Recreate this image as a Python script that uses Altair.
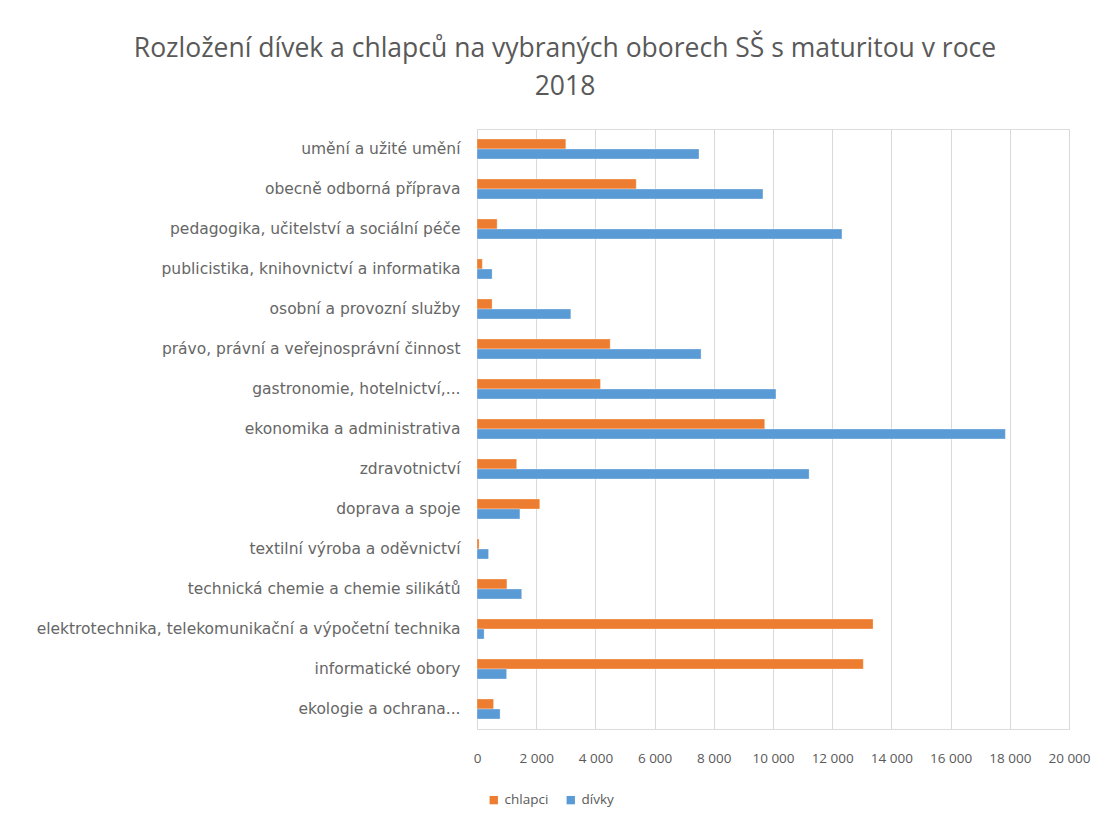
import altair as alt
import pandas as pd

categories = [
    "umění a užité umění",
    "obecně odborná příprava",
    "pedagogika, učitelství a sociální péče",
    "publicistika, knihovnictví a informatika",
    "osobní a provozní služby",
    "právo, právní a veřejnosprávní činnost",
    "gastronomie, hotelnictví,...",
    "ekonomika a administrativa",
    "zdravotnictví",
    "doprava a spoje",
    "textilní výroba a oděvnictví",
    "technická chemie a chemie silikátů",
    "elektrotechnika, telekomunikační a výpočetní technika",
    "informatické obory",
    "ekologie a ochrana...",
]
chlapci = [3000, 5380, 680, 180, 510, 4500, 4170, 9720, 1340, 2120, 70, 1010, 13380, 13050, 560]
divky = [7500, 9660, 12330, 510, 3170, 7570, 10100, 17850, 11220, 1450, 390, 1510, 240, 1000, 780]
series = ["chlapci", "dívky"]
colors = ["#ED7D31", "#5B9BD5"]
x_ticks = [0, 2000, 4000, 6000, 8000, 10000, 12000, 14000, 16000, 18000, 20000]

rows = []
for c, a, b in zip(categories, chlapci, divky):
    rows.append({"obor": c, "skupina": series[0], "pocet": a})
    rows.append({"obor": c, "skupina": series[1], "pocet": b})
df = pd.DataFrame(rows)

FONT = "Open Sans"
YFONT = "DejaVu Sans"
GRAY = "#595959"

chart = alt.Chart(df).mark_bar(stroke="white", strokeWidth=0.5, strokeOpacity=0.6).encode(
    x=alt.X("pocet:Q",
            scale=alt.Scale(domain=[0, 20000], nice=False),
            axis=alt.Axis(title=None, values=x_ticks, grid=True, gridColor="#d9d9d9",
                          domain=False, ticks=False, labelPadding=22, labelFontSize=13.5,
                          labelColor=GRAY, labelFont=FONT, labelOverlap=False,
                          labelFlush=False,
                          labelExpr="datum.value == 0 ? '0' : floor(datum.value/1000) + ' 000'")),
    y=alt.Y("obor:N", sort=categories,
            scale=alt.Scale(paddingInner=0.5, paddingOuter=0.25),
            axis=alt.Axis(title=None, domain=True, domainColor="#d9d9d9", ticks=False,
                          labelPadding=17, labelFontSize=15.5, labelColor="#666666",
                          labelFont=YFONT, labelLimit=0)),
    yOffset=alt.YOffset("skupina:N", sort=series, scale=alt.Scale(paddingInner=0)),
    color=alt.Color("skupina:N", sort=series,
                    scale=alt.Scale(domain=series, range=colors),
                    legend=alt.Legend(title=None, orient="none", direction="horizontal",
                                      legendX=10, legendY=664, symbolType="square",
                                      symbolSize=70, symbolStrokeWidth=0,
                                      labelFontSize=13.5, labelColor=GRAY, labelFont=FONT,
                                      columnPadding=15)),
).properties(
    width=592,
    height=600,
    title=alt.TitleParams(
        text=["Rozložení dívek a chlapců na vybraných oborech SŠ s maturitou v roce", "2018"],
        font=FONT, fontSize=26.5, fontWeight="normal", color=GRAY,
        anchor="middle", dx=-208, offset=29, lineHeight=38,
    ),
    autosize=alt.AutoSizeParams(type="none"),
    padding={"left": 469, "top": 121, "right": 35, "bottom": 86},
).configure_view(stroke=None).configure(background="white")

chart.save("out.html", embed_options={"renderer": "svg", "actions": False})
